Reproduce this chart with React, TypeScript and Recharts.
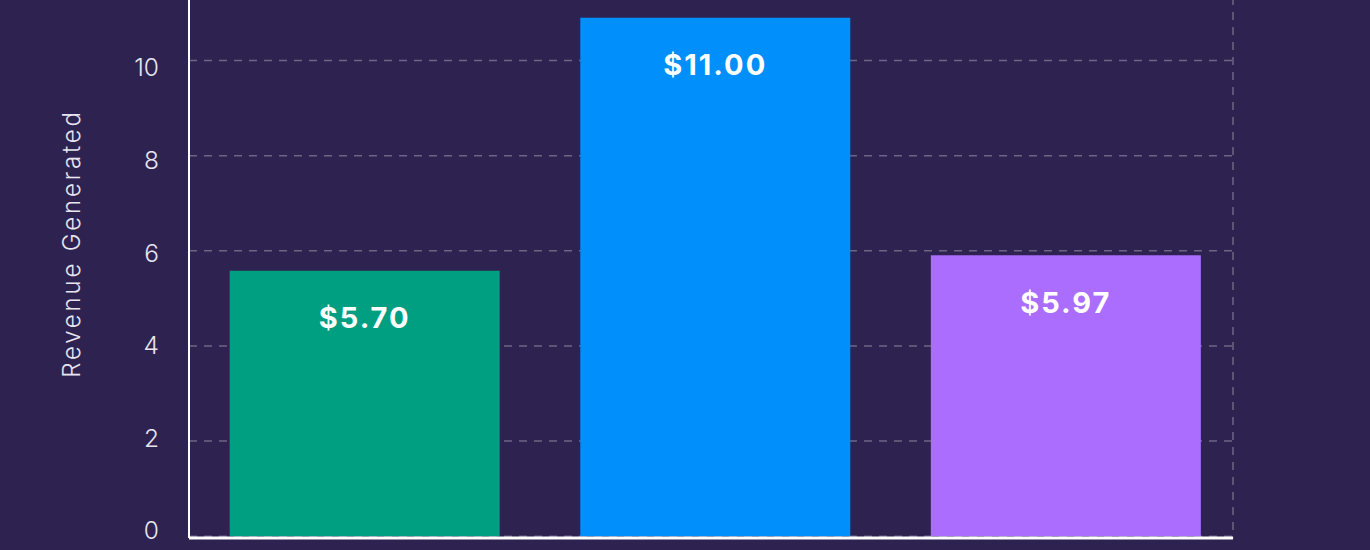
import React from 'react';
import { BarChart, Bar, XAxis, YAxis, CartesianGrid, Cell, LabelList, Label } from 'recharts';

const categories = ['Option A', 'Option B', 'Option C'];
const revenue = [5.58, 10.9, 5.91];
const revenueLabels = ['$5.70', '$11.00', '$5.97'];
const barColors = ['#009f81', '#008ffb', '#aa6dfd'];
const yTicks = [0, 2, 4, 6, 8, 10];

const data = categories.map((name, i) => ({
  name,
  idx: i,
  revenue: revenue[i],
  label: revenueLabels[i],
}));

const xDomain: [number, number] = [-0.502, 2.476];
const yDomain: [number, number] = [-0.037, 11.337];

const BG = '#2e2350';
const TEXT = '#e8e5f0';
const FONT = 'Inter, "Noto Sans", sans-serif';

const TitleLabel = (props: any) => {
  const vb = props.viewBox || {};
  const cx = 71.5;
  const cy = vb.y + vb.height / 2 - 24;
  return (
    <text
      x={cx}
      y={cy}
      transform={`rotate(-90, ${cx}, ${cy})`}
      textAnchor="middle"
      dominantBaseline="central"
      fill={TEXT}
      fontSize={24}
      fontWeight={300}
      fontFamily={FONT}
      letterSpacing={2.8}
    >
      Revenue Generated
    </text>
  );
};

// Tick labels in the reference sit on a slightly compressed spacing relative to the gridlines.
const YTick = (props: any) => {
  const { x, y, payload } = props;
  const v = Number(payload.value);
  const shift = -6 + 1.28 * v;
  return (
    <text
      x={x}
      y={y + shift}
      textAnchor="end"
      dominantBaseline="central"
      fill={TEXT}
      fontSize={24.5}
      fontWeight={300}
      fontFamily={FONT}
    >
      {payload.value}
    </text>
  );
};

export default function App() {
  return (
    <div style={{ position: 'absolute', left: 0, top: 0, width: 1370, height: 550, background: BG, overflow: 'hidden' }}>
      <BarChart
        width={1370}
        height={553}
        data={data}
        margin={{ top: 0, right: 137, bottom: 0, left: 0 }}
        style={{ marginTop: -3 }}
      >
        <CartesianGrid
          stroke="rgba(255,255,255,0.3)"
          strokeDasharray="8 7"
          strokeWidth={1.5}
        />
        <XAxis
          dataKey="idx"
          type="number"
          domain={xDomain}
          ticks={[xDomain[1]]}
          allowDataOverflow
          tick={false}
          tickLine={false}
          height={12}
          axisLine={{ stroke: '#ffffff', strokeWidth: 3 }}
        />
        <YAxis
          type="number"
          domain={yDomain}
          ticks={yTicks}
          allowDataOverflow
          width={189}
          tick={<YTick />}
          tickLine={false}
          tickSize={0}
          tickMargin={30}
          axisLine={{ stroke: '#ffffff', strokeWidth: 2 }}
        >
          <Label content={<TitleLabel />} />
        </YAxis>
        <Bar dataKey="revenue" barSize={270} isAnimationActive={false}>
          {data.map((d, i) => (
            <Cell key={d.name} fill={barColors[i]} />
          ))}
          <LabelList
            dataKey="label"
            position="insideTop"
            offset={37}
            fill="#ffffff"
            style={{ fontSize: 29, fontWeight: 700, fontFamily: FONT, letterSpacing: 2 }}
          />
        </Bar>
      </BarChart>
    </div>
  );
}
